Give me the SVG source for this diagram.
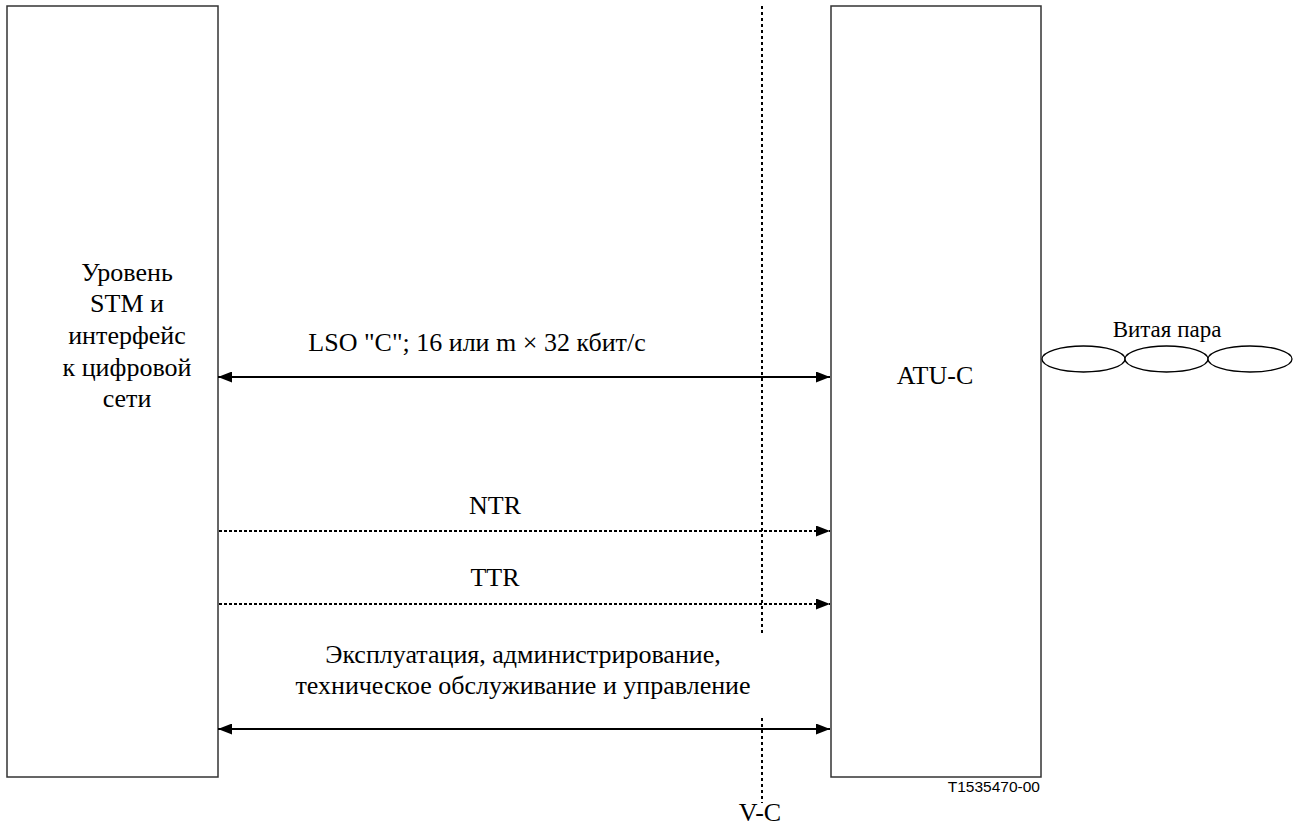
<svg xmlns="http://www.w3.org/2000/svg" width="1293" height="825" viewBox="0 0 1293 825">
<style>
.box{fill:#fff;stroke:#333;stroke-width:1.5}
.t{font-family:"Liberation Serif","DejaVu Serif","Times New Roman",serif;font-size:26px;fill:#000;text-anchor:middle}
.sm{font-size:23px}
.s{font-family:"Liberation Sans",Arial,sans-serif;font-size:15.5px;fill:#000;text-anchor:end}
.solid{stroke:#000;stroke-width:2;fill:none}
.dot{stroke:#000;stroke-width:2;fill:none;stroke-dasharray:3 2}
.vdot{stroke:#000;stroke-width:2;fill:none;stroke-dasharray:3 3}
.tw{fill:#fff;stroke:#000;stroke-width:1.3}
</style>
<defs>
<marker id="ah" viewBox="0 0 14 11" refX="14" refY="5.5" markerWidth="14" markerHeight="11" markerUnits="userSpaceOnUse" orient="auto-start-reverse">
<path d="M0,0 L14,5.5 L0,11 Z" fill="#000"/>
</marker>
</defs>
<rect width="1293" height="825" fill="#fff"/>
<g id="stm">
<rect class="box" x="7" y="6" width="211" height="771"/>
<text class="t" x="127" y="281">Уровень</text>
<text class="t" x="127" y="312">STM и</text>
<text class="t" x="127" y="344">интерфейс</text>
<text class="t" x="127" y="376">к цифровой</text>
<text class="t" x="127" y="407">сети</text>
</g>
<g id="atuc">
<rect class="box" x="831" y="6" width="210" height="771"/>
<text class="t" x="935" y="384">ATU-C</text>
</g>
<g id="twisted">
<ellipse class="tw" cx="1083.5" cy="359" rx="41.5" ry="13"/>
<ellipse class="tw" cx="1166.5" cy="359" rx="41.5" ry="13"/>
<ellipse class="tw" cx="1250" cy="359" rx="42" ry="13"/>
<text class="t sm" x="1167" y="337">Витая пара</text>
</g>
<g id="vc">
<line class="vdot" x1="762" y1="6" x2="762" y2="633"/>
<line class="vdot" x1="762" y1="718" x2="762" y2="803"/>
<text class="t" x="760" y="821">V-C</text>
</g>
<g id="connectors">
<line class="solid" x1="218" y1="377" x2="830" y2="377" marker-start="url(#ah)" marker-end="url(#ah)"/>
<line class="dot" x1="219" y1="531" x2="830" y2="531" marker-end="url(#ah)"/>
<line class="dot" x1="219" y1="604" x2="830" y2="604" marker-end="url(#ah)"/>
<line class="solid" x1="218" y1="729" x2="830" y2="729" marker-start="url(#ah)" marker-end="url(#ah)"/>
</g>
<g id="labels">
<text class="t" x="477" y="351">LSO "C"; 16 или m × 32 кбит/с</text>
<text class="t" x="495" y="514">NTR</text>
<text class="t" x="495" y="586">TTR</text>
<text class="t" x="523" y="663">Эксплуатация, администрирование,</text>
<text class="t" x="523" y="694">техническое обслуживание и управление</text>
<text class="s" x="1040" y="792">T1535470-00</text>
</g>
</svg>
